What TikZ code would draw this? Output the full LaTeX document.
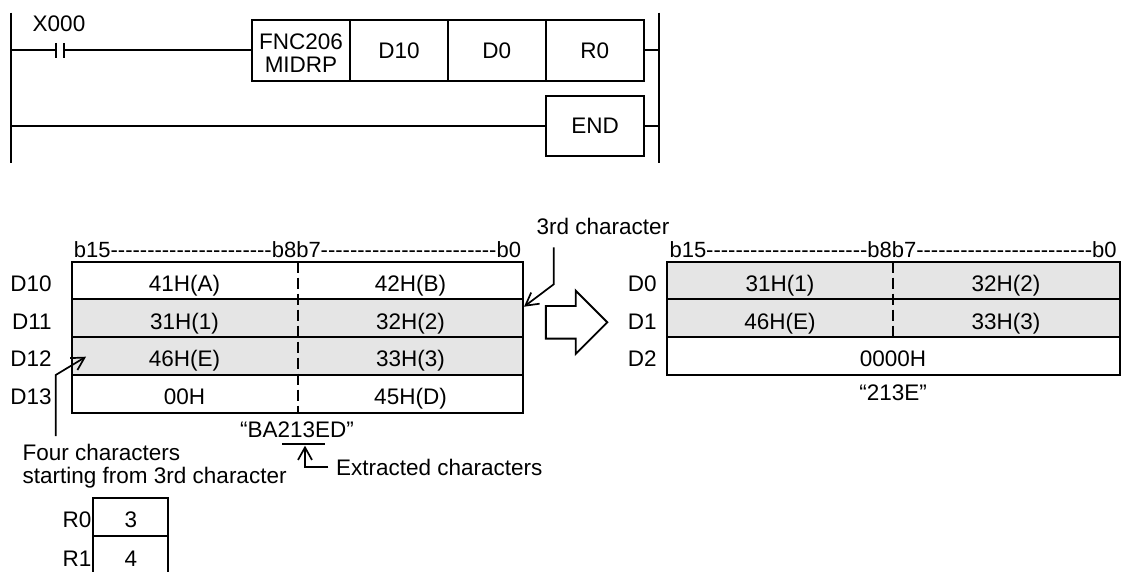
\documentclass[tikz,border=0pt]{standalone}
\usepackage{fontspec}
\setmainfont{Liberation Sans}
\usetikzlibrary{positioning, arrows.meta, shapes.arrows}
\newcommand{\hyphens}[1]{\foreach \n in {1,...,#1}{-{}}}

\begin{document}
\begin{tikzpicture}[
    x=1pt, y=-1pt,
    every node/.style={font=\fontsize{22.5}{23}\selectfont, inner sep=0pt, outer sep=0pt},
    wire/.style={line width=2pt},
    lbox/.style={rectangle, draw=black, line width=2pt, align=center, minimum width=73pt, minimum height=60.7pt},
    row/.style={rectangle, draw=black, line width=2pt, minimum height=37.75pt},
    shaded/.style={fill=black!10},
    val/.style={text height=15.7pt, text depth=0pt, yshift=-3pt},
    divide/.style={line width=2pt, dash pattern=on 11pt off 5pt},
    pointer/.style={-{Straight Barb[length=12.5pt, width=14pt]}, line width=1.7pt},
    bits/.style={font=\fontsize{22}{23}\selectfont}]
\useasboundingbox (0,0) rectangle (1125,571);
% ladder
\coordinate (railLtop) at (10.7,12.7); \coordinate (railLbot) at (10.7,163);
\coordinate (railRtop) at (658.5,12.7); \coordinate (railRbot) at (658.5,163);
\coordinate (rungA) at (10.7,50.3); \coordinate (rungB) at (10.7,126);
\coordinate (rungC) at (658.5,50.3); \coordinate (rungD) at (658.5,126);
\coordinate (conL) at (56,50.3); \coordinate (conR) at (64,50.3);
\draw[wire](railLtop)--(railLbot);\draw[wire](railRtop)--(railRbot);
\node (x000) at (59,24) {X000};
\node[lbox, minimum width=98pt] (fnc) at (301,50.3) {\rule{0pt}{21pt}FNC206\\ MIDRP};
\node[lbox, minimum width=98pt, right=0pt of fnc] (d10) {D10};
\node[lbox, minimum width=97.5pt, right=0pt of d10] (d0) {D0};
\node[lbox, minimum width=98.5pt, right=0pt of d0] (r0) {R0};
\node[lbox, minimum width=98.5pt] (endbox) at (595,126) {END};
\draw[wire](rungA)--(conL);\draw[wire](conR)--(fnc.west);
\draw[wire]([yshift=7.5pt]conL)--([yshift=-7.5pt]conL);
\draw[wire]([yshift=7.5pt]conR)--([yshift=-7.5pt]conR);
\draw[wire](r0.east)--(rungC);
\draw[wire](rungB)--(endbox.west);\draw[wire](endbox.east)--(rungD);
% source table
\node[row, minimum width=451.6pt, anchor=north west] (s10) at (71.7,261.7) {};
\node[row, shaded, minimum width=451.6pt, below=0pt of s10] (s11) {};
\node[row, shaded, minimum width=451.6pt, below=0pt of s11] (s12) {};
\node[row, minimum width=451.6pt, below=0pt of s12] (s13) {};
\draw[divide](s10.north)--(s13.south);
\node[val, left=20pt of s10] {D10};
\node[val, left=20pt of s11] {D11};
\node[val, left=20pt of s12] {D12};
\node[val, left=20pt of s13] {D13};
\node[val] at ([xshift=-113pt]s10.center) {41H(A)};
\node[val] at ([xshift=113pt]s10.center) {42H(B)};
\node[val] at ([xshift=-113pt]s11.center) {31H(1)};
\node[val] at ([xshift=113pt]s11.center) {32H(2)};
\node[val] at ([xshift=-113pt]s12.center) {46H(E)};
\node[val] at ([xshift=113pt]s12.center) {33H(3)};
\node[val] at ([xshift=-113pt]s13.center) {00H};
\node[val] at ([xshift=113pt]s13.center) {45H(D)};
\node[bits, above=4pt of s10] {b15\hyphens{22}b8b7\hyphens{24}b0};
\node (quote) at (297,430) {“BA213ED”};
% target table
\node[row, shaded, minimum width=452.8pt, anchor=north west] (t0) at (666.7,261.7) {};
\node[row, shaded, minimum width=452.8pt, below=0pt of t0] (t1) {};
\node[row, minimum width=452.8pt, below=0pt of t1] (t2) {};
\draw[divide](t0.north)--(t1.south);
\node[val, left=10pt of t0] {D0};
\node[val, left=10pt of t1] {D1};
\node[val, left=10pt of t2] {D2};
\node[val] at ([xshift=-113pt]t0.center) {31H(1)};
\node[val] at ([xshift=113pt]t0.center) {32H(2)};
\node[val] at ([xshift=-113pt]t1.center) {46H(E)};
\node[val] at ([xshift=113pt]t1.center) {33H(3)};
\node[val] at (t2.center) {0000H};
\node[bits, above=4pt of t0] {b15\hyphens{22}b8b7\hyphens{24}b0};
\node[below=9.5pt of t2] {“213E”};
% block arrow
\node[single arrow, draw=black, line width=1.9pt, inner ysep=15.35pt, minimum height=61.5pt,
    single arrow head extend=15.3pt, single arrow tip angle=90, anchor=tip] (blockarrow) at (607.3,322.3) {};
% notes
\node (third) at (603,226) {3rd character};
\coordinate (thirdA) at (553.7,247.3); \coordinate (thirdB) at (553.7,284.3); \coordinate (thirdC) at (524,306.7);
\draw[pointer](thirdA)--(thirdB)--(thirdC);
\node[align=left, anchor=north west] (four) at (22.7,444) {Four characters\\ starting from 3rd character};
\coordinate (fourA) at (55.7,436); \coordinate (fourB) at (55.7,375); \coordinate (fourC) at (86,356.7);
\draw[pointer](fourA)--(fourB)--(fourC);
\coordinate (ulineA) at (282.3,444); \coordinate (ulineB) at (325,444);
\draw[wire](ulineA)--(ulineB);
\node[anchor=west] (extract) at (336,467.3) {Extracted characters};
\coordinate (extA) at (305,467.3); \coordinate (extB) at (305,445.7);
\draw[pointer]([xshift=-7.7pt]extract.west)--(extA)--(extB);
% length table
\node[lbox, minimum width=75pt, minimum height=38.3pt, anchor=north west] (r0val) at (93.3,497.7) {};
\node[lbox, minimum width=75pt, minimum height=38.3pt, below=0pt of r0val] (r1val) {};
\node[val] at (r0val.center) {3};
\node[val] at (r1val.center) {4};
\node[val, left=2pt of r0val] {R0};
\node[val, left=2pt of r1val] {R1};
\end{tikzpicture}
\end{document}
